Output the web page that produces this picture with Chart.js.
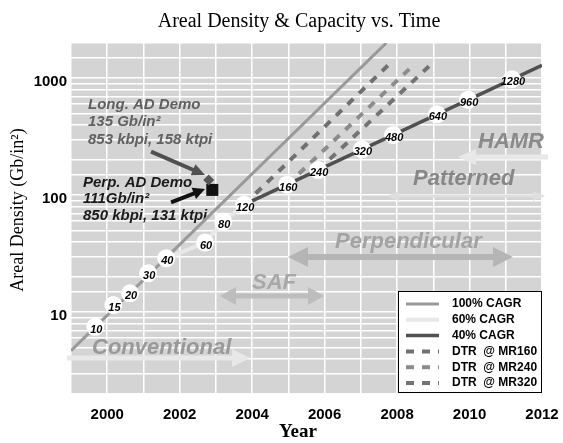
<!DOCTYPE html>
<html>
<head>
<meta charset="utf-8">
<script src="https://cdn.jsdelivr.net/npm/chart.js@4.4.0/dist/chart.umd.min.js"></script>
<style>
  html, body { margin: 0; padding: 0; background: #fff; }
</style>
</head>
<body>
<canvas id="densityChart" width="563" height="443"></canvas>
<script>
// Capacity markers (white circles) on the growth curves
const capYears = [1999.67, 2000.17, 2000.63, 2001.13, 2001.63, 2002.7, 2003.2, 2003.78, 2004.97, 2005.82, 2007.03, 2007.89, 2009.1, 2009.96, 2011.17];
const capDensity = [7.5, 11.5, 14.5, 21.5, 28.9, 39.4, 59.5, 83, 123, 164, 247, 327, 491, 654, 981];
const capLabels = ["10", "15", "20", "30", "40", "60", "80", "120", "160", "240", "320", "480", "640", "960", "1280"];

// Growth lines
const cagr100Years = [1999, 2007.7];
const cagr100Density = [4.7, 2000];
const cagr60Years = [2001.63, 2002.7, 2003.2, 2003.78];
const cagr60Density = [28.9, 39.4, 59.5, 83];
const cagr40Years = [2003.78, 2012];
const cagr40Density = [83, 1290];

// DTR limit lines (dashed)
const mr160Years = [2003.78, 2007.75];
const mr160Density = [83, 1290];
const mr240Years = [2004.97, 2008.36];
const mr240Density = [123, 1215];
const mr320Years = [2005.82, 2008.88];
const mr320Density = [164, 1265];

// Demo points
const longDemoYear = [2002.8];
const longDemoDensity = [135];
const perpDemoYear = [2002.9];
const perpDemoDensity = [111];

// Axis ticks
const xTickYears = [2000, 2002, 2004, 2006, 2008, 2010, 2012];
const yTickValues = [10, 100, 1000];

const SANS = "'Liberation Sans', Arial, sans-serif";
const SERIF = "'Liberation Serif', 'Times New Roman', serif";

// zip year / density arrays into points
function toPoints(xs, ys) {
    return xs.map((x, i) => ({ x: x, y: ys[i] }));
}

// filled arrow, optional head on both ends
function drawArrow(ctx, x1, y1, x2, y2, o) {
    const ang = Math.atan2(y2 - y1, x2 - x1);
    const len = Math.hypot(x2 - x1, y2 - y1);
    const s = o.both ? o.head : 0;
    ctx.save();
    ctx.translate(x1, y1);
    ctx.rotate(ang);
    ctx.fillStyle = o.color;
    ctx.fillRect(s - 1, -o.width / 2, len - o.head - s + 2, o.width);
    ctx.beginPath();
    ctx.moveTo(len, 0);
    ctx.lineTo(len - o.head, -o.half);
    ctx.lineTo(len - o.head, o.half);
    ctx.closePath();
    ctx.fill();
    if (o.both) {
        ctx.beginPath();
        ctx.moveTo(0, 0);
        ctx.lineTo(o.head, -o.half);
        ctx.lineTo(o.head, o.half);
        ctx.closePath();
        ctx.fill();
    }
    ctx.restore();
}

function drawText(ctx, text, x, y, font, color, align) {
    ctx.font = font;
    ctx.fillStyle = color;
    ctx.textAlign = align || "left";
    ctx.textBaseline = "middle";
    ctx.fillText(text, x, y);
}

// Background, annotations, circle labels, titles and the boxed legend
const decorations = {
    id: "decorations",
    beforeDraw(chart) {
        const { ctx, chartArea: a } = chart;
        ctx.save();
        ctx.fillStyle = "#d4d4d4";
        ctx.fillRect(a.left, a.top, a.right - a.left, a.bottom - a.top);
        ctx.restore();
    },
    beforeDatasetsDraw(chart) {
        const ctx = chart.ctx;
        ctx.save();
        const big = "italic bold 22px " + SANS;
        // technology eras
        drawArrow(ctx, 547, 157, 458, 157, { width: 5, head: 18, half: 8, color: "#e8e8e8" });
        drawText(ctx, "HAMR", 478, 142, big, "#8a8a8a");
        drawArrow(ctx, 387, 196, 545, 196, { width: 3, head: 12, half: 5, color: "#dedede", both: true });
        drawText(ctx, "Patterned", 413, 179, big, "#878787");
        drawArrow(ctx, 288, 257, 513, 257, { width: 6, head: 20, half: 10, color: "#b5b5b5", both: true });
        drawText(ctx, "Perpendicular", 335, 242, big, "#a3a3a3");
        drawArrow(ctx, 220, 296, 324, 296, { width: 5, head: 16, half: 9, color: "#bdbdbd", both: true });
        drawText(ctx, "SAF", 252, 283, big, "#a8a8a8");
        drawArrow(ctx, 68, 358, 250, 358, { width: 5, head: 18, half: 9, color: "#e8e8e8" });
        drawText(ctx, "Conventional", 92, 348, big, "#999999");

        // demo call-outs
        const note = "italic bold 15px " + SANS;
        drawText(ctx, "Long. AD Demo", 88, 105, note, "#606060");
        drawText(ctx, "135 Gb/in\u00b2", 88, 122, note, "#606060");
        drawText(ctx, "853 kbpi, 158 ktpi", 88, 140, note, "#606060");
        drawArrow(ctx, 152, 152, 205, 175, { width: 4, head: 13, half: 6, color: "#505050" });
        drawText(ctx, "Perp. AD Demo", 83, 183, note, "#1a1a1a");
        drawText(ctx, "111Gb/in\u00b2", 83, 199, note, "#1a1a1a");
        drawText(ctx, "850 kbpi, 131 ktpi", 83, 216, note, "#1a1a1a");
        drawArrow(ctx, 172, 202, 205, 189, { width: 4, head: 12, half: 6, color: "#111111" });
        ctx.restore();
    },
    afterDatasetsDraw(chart) {
        const ctx = chart.ctx;
        const meta = chart.getDatasetMeta(0);
        ctx.save();
        meta.data.forEach((pt, i) => {
            drawText(ctx, capLabels[i], pt.x + 1, pt.y + 3, "italic bold 11px " + SANS, "#000", "center");
        });
        ctx.restore();
    },
    afterDraw(chart) {
        const ctx = chart.ctx;
        ctx.save();
        // titles
        drawText(ctx, "Areal Density & Capacity vs. Time", 299, 22, "20px " + SERIF, "#000", "center");
        drawText(ctx, "Year", 298, 432, "bold 19px " + SERIF, "#000", "center");
        ctx.translate(18, 210);
        ctx.rotate(-Math.PI / 2);
        drawText(ctx, "Areal Density (Gb/in\u00b2)", 0, 0, "18px " + SERIF, "#000", "center");
        ctx.setTransform(1, 0, 0, 1, 0, 0);

        // legend box
        const items = chart.data.datasets.filter(ds => ds.inLegend);
        const bx = 398, by = 291, bw = 143, bh = 101;
        ctx.fillStyle = "#fff";
        ctx.fillRect(bx, by, bw, bh);
        ctx.strokeStyle = "#000";
        ctx.lineWidth = 1;
        ctx.strokeRect(bx + 0.5, by + 0.5, bw, bh);
        items.forEach((ds, i) => {
            const y = by + 13 + i * 15.8;
            ctx.beginPath();
            ctx.setLineDash(ds.borderDash || []);
            ctx.strokeStyle = ds.borderColor;
            ctx.lineWidth = ds.borderWidth;
            ctx.moveTo(406, y);
            ctx.lineTo(439, y);
            ctx.stroke();
            ctx.setLineDash([]);
            drawText(ctx, ds.label, 452, y, "bold 12px " + SANS, "#000");
        });
        ctx.restore();
    }
};

const lineBase = { showLine: true, pointRadius: 0, fill: false, tension: 0 };

const ctx = document.getElementById("densityChart").getContext("2d");
const densityChart = new Chart(ctx, {
    type: "scatter",
    data: {
        datasets: [
            {
                label: "Capacity",
                data: toPoints(capYears, capDensity),
                showLine: false,
                pointRadius: 9,
                pointBackgroundColor: "#ffffff",
                pointBorderColor: "#ffffff",
                pointBorderWidth: 0,
                order: 0
            },
            {
                label: "Long. AD Demo",
                data: toPoints(longDemoYear, longDemoDensity),
                pointStyle: "rectRot",
                pointRadius: 5.5,
                pointBackgroundColor: "#555555",
                pointBorderWidth: 0,
                order: 1
            },
            {
                label: "Perp. AD Demo",
                data: toPoints(perpDemoYear, perpDemoDensity),
                pointStyle: "rect",
                pointRadius: 8.5,
                pointBackgroundColor: "#111111",
                pointBorderWidth: 0,
                order: 1
            },
            { ...lineBase, label: "100% CAGR", inLegend: true, data: toPoints(cagr100Years, cagr100Density), borderColor: "#999999", borderWidth: 3, order: 5 },
            { ...lineBase, label: "60% CAGR", inLegend: true, data: toPoints(cagr60Years, cagr60Density), borderColor: "#e8e8e8", borderWidth: 4, order: 5 },
            { ...lineBase, label: "40% CAGR", inLegend: true, data: toPoints(cagr40Years, cagr40Density), borderColor: "#505050", borderWidth: 3.5, order: 4 },
            { ...lineBase, label: "DTR  @ MR160", inLegend: true, data: toPoints(mr160Years, mr160Density), borderColor: "#707070", borderWidth: 4, borderDash: [8, 8], order: 5 },
            { ...lineBase, label: "DTR  @ MR240", inLegend: true, data: toPoints(mr240Years, mr240Density), borderColor: "#8c8c8c", borderWidth: 4, borderDash: [8, 8], order: 5 },
            { ...lineBase, label: "DTR  @ MR320", inLegend: true, data: toPoints(mr320Years, mr320Density), borderColor: "#737373", borderWidth: 4, borderDash: [8, 8], order: 5 }
        ]
    },
    options: {
        responsive: false,
        animation: false,
        events: [],
        layout: { padding: { top: 43, right: 21, bottom: 0, left: 0 } },
        plugins: {
            legend: { display: false },
            title: { display: false },
            tooltip: { enabled: false }
        },
        scales: {
            x: {
                type: "linear",
                min: 1999,
                max: 2012,
                afterFit: scale => {
                    scale.height = 49;
                    scale.paddingLeft = 0;
                    scale.paddingRight = 0;
                },
                grid: { color: "#ffffff", lineWidth: 1.5, drawTicks: false },
                border: { display: false },
                ticks: {
                    stepSize: 1,
                    autoSkip: false,
                    maxRotation: 0,
                    padding: 12,
                    color: "#000",
                    font: { family: SANS, size: 15, weight: "bold" },
                    callback: v => xTickYears.includes(v) ? String(v) : ""
                }
            },
            y: {
                type: "logarithmic",
                min: 2,
                max: 2000,
                afterFit: scale => {
                    scale.width = 71;
                    scale.paddingTop = 0;
                    scale.paddingBottom = 0;
                },
                grid: { color: "#ffffff", lineWidth: 1.5, drawTicks: false },
                border: { display: false },
                ticks: {
                    autoSkip: false,
                    padding: 4,
                    labelOffset: 4,
                    color: "#000",
                    font: { family: SANS, size: 15, weight: "bold" },
                    callback: v => yTickValues.includes(v) ? String(v) : ""
                }
            }
        }
    },
    plugins: [decorations]
});
</script>
</body>
</html>
